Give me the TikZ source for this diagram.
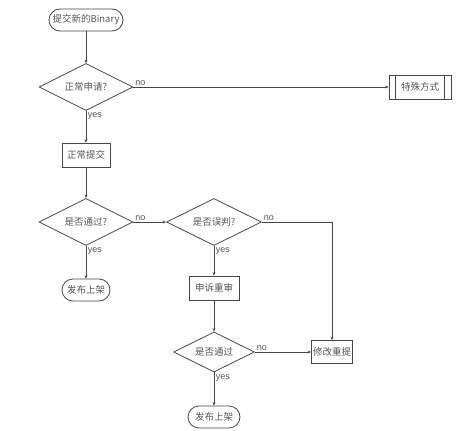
\documentclass[tikz,border=0pt]{standalone}
\usepackage{fontspec}
\setmainfont{Liberation Sans}
\newfontfamily\cjk{Noto Sans CJK SC}
\usetikzlibrary{shapes.geometric,arrows.meta}
\definecolor{inkgray}{RGB}{70,70,70}
\definecolor{textgray}{RGB}{85,85,85}

\begin{document}
\begin{tikzpicture}[x=1pt,y=-1pt,
    every node/.style={text=textgray,font=\cjk\fontsize{9.5}{11}\selectfont},
    termbox/.style={draw=inkgray,thick,rounded corners=11pt,minimum height=22pt,inner sep=2pt},
    procbox/.style={draw=inkgray,thick,minimum height=24pt,inner sep=3pt},
    choice/.style={draw=inkgray,thick,diamond,aspect=2,inner sep=0pt,minimum width=94pt,minimum height=47pt},
    flow/.style={draw=inkgray,thick,-{Stealth[length=3.5pt,width=3pt]}},
    tag/.style={font=\fontsize{9}{10}\selectfont,inner sep=1.5pt}]
  \useasboundingbox[fill=white] (0,0) rectangle (466,431);
  \node[termbox,minimum width=74pt,inner xsep=1pt] (start) at (86,20) {提交新的Binary};
  \node[choice] (normal) at (86,87) {正常申请?};
  \node[procbox,minimum width=62pt,inner xsep=9pt] (special) at (420,87) {特殊方式};
  \draw[inkgray,thick] ([xshift=7pt]special.north west) -- ([xshift=7pt]special.south west);
  \draw[inkgray,thick] ([xshift=-7pt]special.north east) -- ([xshift=-7pt]special.south east);
  \node[procbox,minimum width=48pt] (submit) at (86,155) {正常提交};
  \node[choice] (pass) at (86,222) {是否通过?};
  \node[termbox,minimum width=48pt] (pubA) at (86,290) {发布上架};
  \node[choice,minimum width=95pt] (misjudge) at (214,222) {是否误判?};
  \node[procbox,minimum width=50pt] (appeal) at (214,288) {申诉重审};
  \node[choice,minimum width=81pt,minimum height=40pt] (passB) at (214,352) {是否通过};
  \node[procbox,minimum width=41pt,minimum height=23pt,inner xsep=1pt] (redo) at (332,352) {修改重提};
  \node[termbox,minimum width=52pt] (pubB) at (214,417) {发布上架};

  \draw[flow] (start) -- (normal);
  \draw[flow] (normal.east) -- node[tag,pos=0,anchor=south west] {no} (special.west);
  \draw[flow] (normal.south) -- node[tag,pos=0,anchor=north west] {yes} (submit.north);
  \draw[flow] (submit) -- (pass);
  \draw[flow] (pass.east) -- node[tag,pos=0,anchor=south west] {no} (misjudge.west);
  \draw[flow] (pass.south) -- node[tag,pos=0,anchor=north west] {yes} (pubA.north);
  \draw[flow] (misjudge.east) -| node[tag,pos=0,anchor=south west] {no} (redo.north);
  \draw[flow] (misjudge.south) -- node[tag,pos=0,anchor=north west] {yes} (appeal.north);
  \draw[flow] (appeal) -- (passB);
  \draw[flow] (passB.east) -- node[tag,pos=0,anchor=south west] {no} (redo.west);
  \draw[flow] (passB.south) -- node[tag,pos=0,anchor=north west] {yes} (pubB.north);
\end{tikzpicture}
\end{document}
